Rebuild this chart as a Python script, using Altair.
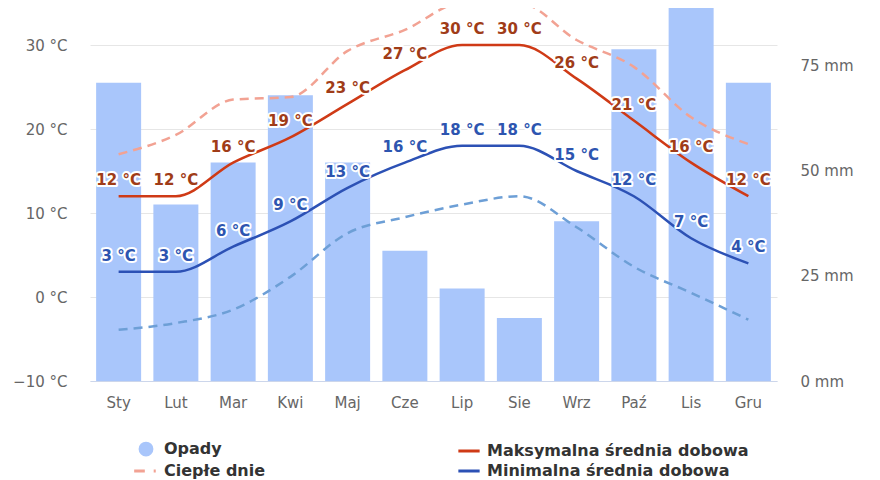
import altair as alt
import pandas as pd

months = ["Sty", "Lut", "Mar", "Kwi", "Maj", "Cze", "Lip", "Sie", "Wrz", "Paź", "Lis", "Gru"]
precip_mm = [71, 42, 52, 68, 52, 31, 22, 15, 38, 79, 96, 71]
t_max = [12, 12, 16, 19, 23, 27, 30, 30, 26, 21, 16, 12]
t_min = [3, 3, 6, 9, 13, 16, 18, 18, 15, 12, 7, 4]
warm_days = [17, 19.3, 23.5, 23.8, 29.3, 31.8, 35, 35, 30.6, 27.4, 21.4, 18.2]
cold_nights = [-3.9, -3.1, -1.5, 2.4, 7.6, 9.5, 11, 12, 8.3, 3.6, 0.5, -2.7]

# legend fills column by column: Opady / Ciepłe dnie, then max / min
series = ["Opady", "Ciepłe dnie", "Maksymalna średnia dobowa", "Minimalna średnia dobowa"]
series_colors = ["#a9c6fb", "#f2a293", "#cf3a16", "#2c51b5"]
series_shapes = ["circle", "M-2,0H-0.2M1.3,0H1.65", "M-1.8,0H1.8", "M-1.8,0H1.8"]

FONT = "DejaVu Sans"

df = pd.DataFrame({
    "month": months,
    "precip": precip_mm,
    "tmax": t_max,
    "tmin": t_min,
    "warm": warm_days,
    "cold": cold_nights,
})

x_enc = alt.X(
    "month:N", sort=months, title=None,
    scale=alt.Scale(paddingInner=0.214, paddingOuter=0.107),
    axis=alt.Axis(labelAngle=0, ticks=False, tickSize=0, domainColor="#ccd6eb",
                  labelPadding=14, labelFontSize=15, labelColor="#666666"),
)

temp_scale = alt.Scale(domain=[-10, 35.36], nice=False, zero=False)
temp_axis = alt.Axis(orient="left", values=[-10, 0, 10, 20, 30], labelExpr="datum.label + ' °C'",
                     grid=True, gridColor="#e6e6e6", domain=False, ticks=False, tickSize=0,
                     labelPadding=23, labelFontSize=15, labelColor="#666666")


def temp_y(field):
    return alt.Y(f"{field}:Q", scale=temp_scale, axis=temp_axis, title=None)


base = alt.Chart(df)

bars = base.mark_bar(color="#a9c6fb", clip=True).encode(
    x=x_enc,
    y=alt.Y("precip:Q", title=None, scale=alt.Scale(domain=[0, 90.7], nice=False),
            axis=alt.Axis(orient="right", values=[0, 25, 50, 75], labelExpr="datum.value + ' mm'",
                          grid=False, domain=False, ticks=False, tickSize=0,
                          labelPadding=23, labelFontSize=15, labelColor="#666666")),
)

warm = base.mark_line(interpolate="monotone", color="#f2a293", strokeWidth=2.5,
                      strokeDash=[9, 6]).encode(x=x_enc, y=temp_y("warm"))
cold = base.mark_line(interpolate="monotone", color="#6d9fd6", strokeWidth=2.5,
                      strokeDash=[9, 6]).encode(x=x_enc, y=temp_y("cold"))
max_line = base.mark_line(interpolate="monotone", color="#cf3a16", strokeWidth=2.5).encode(
    x=x_enc, y=temp_y("tmax"))
min_line = base.mark_line(interpolate="monotone", color="#2c51b5", strokeWidth=2.5).encode(
    x=x_enc, y=temp_y("tmin"))


def labels(field, color):
    src = base.transform_calculate(lbl=f"datum.{field} + ' °C'")
    halo = src.mark_text(dy=-16, font=FONT, fontSize=15, fontWeight="bold", fill="white",
                         stroke="white", strokeWidth=4, strokeJoin="round").encode(
        x=x_enc, y=temp_y(field), text="lbl:N")
    txt = src.mark_text(dy=-16, font=FONT, fontSize=15, fontWeight="bold", color=color).encode(
        x=x_enc, y=temp_y(field), text="lbl:N")
    return [halo, txt]


temps = alt.layer(warm, cold, max_line, min_line,
                  *labels("tmax", "#a03c18"), *labels("tmin", "#2d55b0"))

leg = alt.Legend(orient="none", legendX=48, legendY=441, columns=2, columnPadding=186,
                 rowPadding=2, symbolSize=140, symbolStrokeWidth=3, symbolOpacity=1,
                 labelFontSize=16, labelFontWeight="bold", labelColor="#333333",
                 labelFont=FONT, labelOffset=10, labelLimit=400, padding=0, title=None)

legend_layer = alt.Chart(pd.DataFrame({"series": series})).mark_point(filled=True).transform_filter(
    "false").encode(
    fill=alt.Fill("series:N", scale=alt.Scale(domain=series, range=series_colors), legend=leg),
    stroke=alt.Stroke("series:N", scale=alt.Scale(domain=series, range=series_colors), legend=leg),
    shape=alt.Shape("series:N", scale=alt.Scale(domain=series, range=series_shapes), legend=leg),
)

chart = alt.layer(bars, temps, legend_layer).resolve_scale(y="independent").properties(
    width=687, height=381,
    autosize=alt.AutoSizeParams(type="none"),
    padding={"left": 82, "top": -8, "right": 95, "bottom": 99},
    background="white",
).configure_view(stroke=None).configure_axis(labelFont=FONT)

chart.save("out.html", embed_options={"renderer": "svg", "actions": False})
